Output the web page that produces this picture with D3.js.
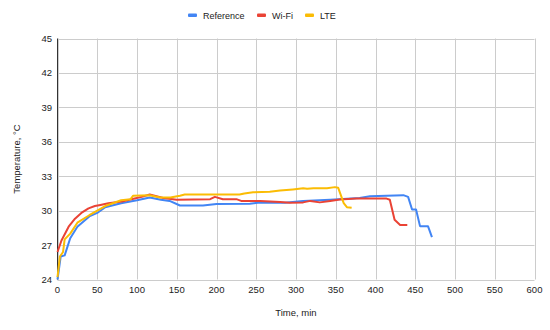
<!DOCTYPE html>
<html>
<head>
<meta charset="utf-8">
<title>Temperature over time</title>
<script src="https://d3js.org/d3.v7.min.js"></script>
<style>
  body { margin: 0; background: #fff; }
  text { font-family: "Liberation Sans", Arial, sans-serif; fill: #222; }
</style>
</head>
<body>
<svg width="550" height="330"></svg>
<script>
// data
var seriesNames = ["Reference", "Wi-Fi", "LTE"];
var seriesColors = ["#4285f4", "#ea4335", "#fbbc04"];

var refTime = [0, 4, 9, 16, 25, 40, 50, 60, 80, 100, 116, 130, 141, 154, 183, 200, 242, 252, 286, 309, 343, 380, 393, 435, 441, 446, 451, 456, 466, 471];
var refTemp = [24.0, 26.0, 26.1, 27.6, 28.6, 29.5, 29.8, 30.3, 30.65, 30.9, 31.15, 30.95, 30.85, 30.45, 30.45, 30.58, 30.6, 30.68, 30.68, 30.85, 30.95, 31.1, 31.25, 31.35, 31.2, 30.1, 30.1, 28.65, 28.65, 27.7];

var wifiTime = [0, 5, 14, 22, 30, 39, 47, 54, 64, 81, 97, 106, 116, 133, 150, 192, 198, 208, 225, 231, 255, 280, 292, 309, 318, 330, 343, 355, 376, 414, 418, 424, 431, 440];
var wifiTemp = [26.4, 27.4, 28.6, 29.3, 29.8, 30.2, 30.4, 30.5, 30.65, 30.8, 31.05, 31.2, 31.4, 31.1, 30.95, 31.0, 31.2, 31.0, 31.0, 30.85, 30.85, 30.75, 30.68, 30.72, 30.85, 30.72, 30.85, 30.98, 31.05, 31.05, 30.95, 29.2, 28.75, 28.75];

var lteTime = [0, 3, 7, 9, 16, 25, 40, 50, 60, 80, 92, 95, 116, 129, 142, 154, 160, 229, 235, 246, 267, 280, 296, 309, 314, 322, 339, 349, 353, 360, 364, 370];
var lteTemp = [24.2, 26.0, 26.4, 27.5, 28.0, 28.95, 29.6, 30.0, 30.4, 30.9, 31.0, 31.3, 31.35, 31.15, 31.15, 31.3, 31.4, 31.4, 31.5, 31.6, 31.65, 31.75, 31.85, 31.95, 31.9, 31.95, 31.95, 32.05, 32.0, 30.65, 30.3, 30.25];

var xTicks = [0, 50, 100, 150, 200, 250, 300, 350, 400, 450, 500, 550, 600];
var yTicks = [24, 27, 30, 33, 36, 39, 42, 45];

var svg = d3.select("svg");

var x = d3.scaleLinear().domain([0, 600]).range([57.5, 534.5]);
var y = d3.scaleLinear().domain([24, 45]).range([279.5, 38.5]);

// grid lines
svg.append("g").selectAll("line.vgrid")
  .data(xTicks).enter().append("line")
  .attr("x1", function(d) { return Math.round(x(d)) + 0.5; })
  .attr("x2", function(d) { return Math.round(x(d)) + 0.5; })
  .attr("y1", y(45)).attr("y2", y(24))
  .style("stroke", "#cccccc").style("stroke-width", 1);

svg.append("g").selectAll("line.hgrid")
  .data(yTicks).enter().append("line")
  .attr("x1", x(0)).attr("x2", x(600))
  .attr("y1", function(d) { return Math.round(y(d)) + 0.5; })
  .attr("y2", function(d) { return Math.round(y(d)) + 0.5; })
  .style("stroke", "#cccccc").style("stroke-width", 1);

// left baseline
svg.append("line")
  .attr("x1", x(0)).attr("x2", x(0))
  .attr("y1", y(45)).attr("y2", y(24))
  .style("stroke", "#333").style("stroke-width", 1);

// tick labels
svg.append("g").selectAll("text")
  .data(xTicks).enter().append("text")
  .attr("x", function(d) { return x(d); })
  .attr("y", 293)
  .attr("text-anchor", "middle")
  .style("font-size", "9.5px")
  .text(function(d) { return d; });

svg.append("g").selectAll("text")
  .data(yTicks).enter().append("text")
  .attr("x", 52)
  .attr("y", function(d) { return y(d) + 3.5; })
  .attr("text-anchor", "end")
  .style("font-size", "9.5px")
  .text(function(d) { return d; });

// axis titles
svg.append("text")
  .attr("x", 296).attr("y", 316)
  .attr("text-anchor", "middle")
  .style("font-size", "9.5px")
  .text("Time, min");

svg.append("text")
  .attr("transform", "translate(20,159) rotate(-90)")
  .attr("text-anchor", "middle")
  .style("font-size", "9.5px")
  .text("Temperature, °C");

// lines
var series = [
  { times: refTime, temps: refTemp },
  { times: wifiTime, temps: wifiTemp },
  { times: lteTime, temps: lteTemp }
];

var line = d3.line()
  .x(function(d) { return x(d[0]); })
  .y(function(d) { return y(d[1]); });

series.forEach(function(s, i) {
  var pts = s.times.map(function(t, j) { return [t, s.temps[j]]; });
  svg.append("path")
    .datum(pts)
    .attr("d", line)
    .style("fill", "none")
    .style("stroke", seriesColors[i])
    .style("stroke-width", 2)
    .style("stroke-linejoin", "round");
});

// legend
var legendX = [188, 257, 305];
var lg = svg.append("g");
seriesNames.forEach(function(name, i) {
  lg.append("rect")
    .attr("x", legendX[i]).attr("y", 13.5)
    .attr("width", 9).attr("height", 3.5)
    .attr("rx", 1)
    .style("fill", seriesColors[i]);
  lg.append("text")
    .attr("x", legendX[i] + 15).attr("y", 18.5)
    .style("font-size", "9px")
    .text(name);
});
</script>
</body>
</html>
